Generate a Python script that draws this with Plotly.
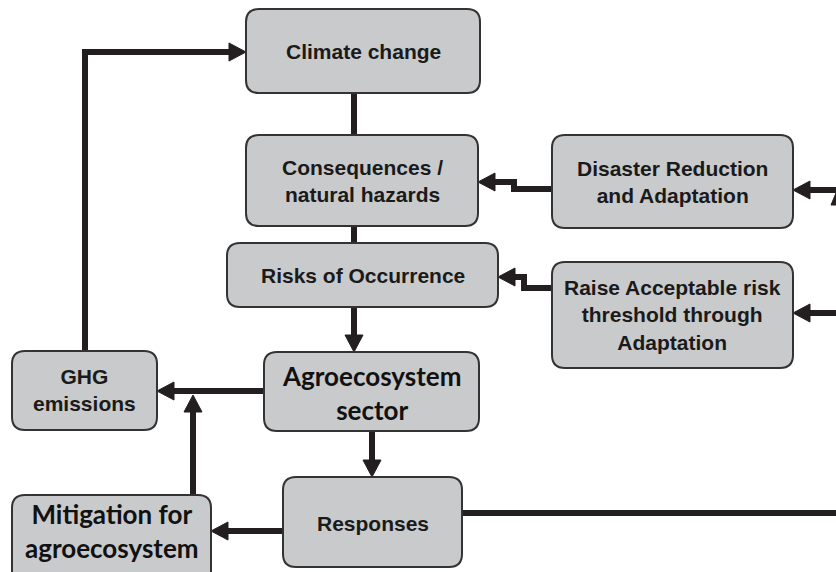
import plotly.graph_objects as go

W, H = 836, 572

# Boxes of the diagram
box_labels = [
    "Climate change",
    "Consequences /<br>natural hazards",
    "Risks of Occurrence",
    "Disaster Reduction<br>and Adaptation",
    "Raise Acceptable risk<br>threshold through<br>Adaptation",
    "GHG<br>emissions",
    "Agroecosystem<br>sector",
    "Responses",
    "Mitigation for<br>agroecosystem",
]
box_x0 = [246, 246, 227, 552, 552, 12, 264, 283, 12]
box_x1 = [480, 478, 498, 793, 793, 157, 479, 462, 211]
box_y0 = [9, 135, 243, 135, 262, 351, 352, 477, 495]
box_y1 = [93, 226, 307, 228, 368, 430, 431, 567, 590]
label_y = [51, 181, 275, 182, 315, 390, 393, 523, 531]
label_style = ["a", "a", "a", "a", "a", "a", "c", "a", "c"]

# Connectors: polylines, with an arrowhead at the end when flagged
conn_paths = [
    [(85, 351), (85, 52), (246, 52)],
    [(354, 93), (354, 135)],
    [(354, 226), (354, 243)],
    [(354, 307), (354, 352)],
    [(264, 391), (157, 391)],
    [(193, 495), (193, 395)],
    [(372, 431), (372, 477)],
    [(283, 531), (211, 531)],
    [(462, 513), (836, 513)],
    [(552, 189), (514, 189), (514, 182), (478, 182)],
    [(836, 190), (793, 190)],
    [(552, 288), (524, 288), (524, 277), (498, 277)],
    [(836, 313), (793, 313)],
]
conn_arrow = [True, False, False, True, True, True, True, True, False, True, True, True, True]

LINE = "#231f20"
FILL = "#c9cacc"
EDGE = "#333333"
R = 13
HEAD_L, HEAD_W = 17, 9

fig = go.Figure()
shapes = []


def rrect(x0, y0, x1, y1, r):
    return (f"M {x0+r},{y0} L {x1-r},{y0} Q {x1},{y0} {x1},{y0+r} "
            f"L {x1},{y1-r} Q {x1},{y1} {x1-r},{y1} L {x0+r},{y1} "
            f"Q {x0},{y1} {x0},{y1-r} L {x0},{y0+r} Q {x0},{y0} {x0+r},{y0} Z")


# connectors first (under boxes)
for pts, arr in zip(conn_paths, conn_arrow):
    pts = list(pts)
    if arr:
        (xa, ya), (xb, yb) = pts[-2], pts[-1]
        dx, dy = xb - xa, yb - ya
        L = (dx * dx + dy * dy) ** 0.5
        ux, uy = dx / L, dy / L
        bx, by = xb - ux * HEAD_L, yb - uy * HEAD_L
        px, py = -uy, ux
        tri = (f"M {xb},{yb} L {bx + px*HEAD_W},{by + py*HEAD_W} "
               f"L {bx - px*HEAD_W},{by - py*HEAD_W} Z")
        shapes.append(dict(type="path", path=tri, xref="x", yref="y",
                           fillcolor=LINE, line=dict(color=LINE, width=1),
                           layer="above"))
        pts[-1] = (xb - ux * (HEAD_L - 2), yb - uy * (HEAD_L - 2))
    d = "M " + " L ".join(f"{x},{y}" for x, y in pts)
    shapes.append(dict(type="path", path=d, xref="x", yref="y",
                       line=dict(color=LINE, width=6), layer="below"))

# partial arrow tip at right edge
shapes.append(dict(type="path", path="M 836,193 L 831,205 L 836,205 Z",
                   xref="x", yref="y", fillcolor=LINE,
                   line=dict(color=LINE, width=1)))

for x0, x1, y0, y1 in zip(box_x0, box_x1, box_y0, box_y1):
    shapes.append(dict(type="path", path=rrect(x0, y0, x1, y1, R), xref="x",
                       yref="y", fillcolor=FILL,
                       line=dict(color=EDGE, width=2), layer="above"))

annotations = []
for lab, x0, x1, ly, st in zip(box_labels, box_x0, box_x1, label_y, label_style):
    if st == "a":
        font = dict(family="Liberation Sans, Arial", size=21, color="#1a1a1a",
                    weight="bold")
    else:
        font = dict(family="Lato, Carlito, Calibri", size=26, color="#111111",
                    weight="bold")
    annotations.append(dict(x=(x0 + x1) / 2, y=ly, xref="x", yref="y",
                            text=lab, showarrow=False, font=font,
                            xanchor="center", yanchor="middle", align="center"))

fig.update_layout(
    width=W, height=H, margin=dict(l=0, r=0, t=0, b=0),
    paper_bgcolor="white", plot_bgcolor="white",
    xaxis=dict(range=[0, W], visible=False, fixedrange=True),
    yaxis=dict(range=[H, 0], visible=False, fixedrange=True),
    shapes=shapes, annotations=annotations, showlegend=False,
)

fig.write_html(
    "out.html",
    config={"displayModeBar": False},
    post_script="document.body.style.margin='0';document.body.style.overflow='hidden';",
)
